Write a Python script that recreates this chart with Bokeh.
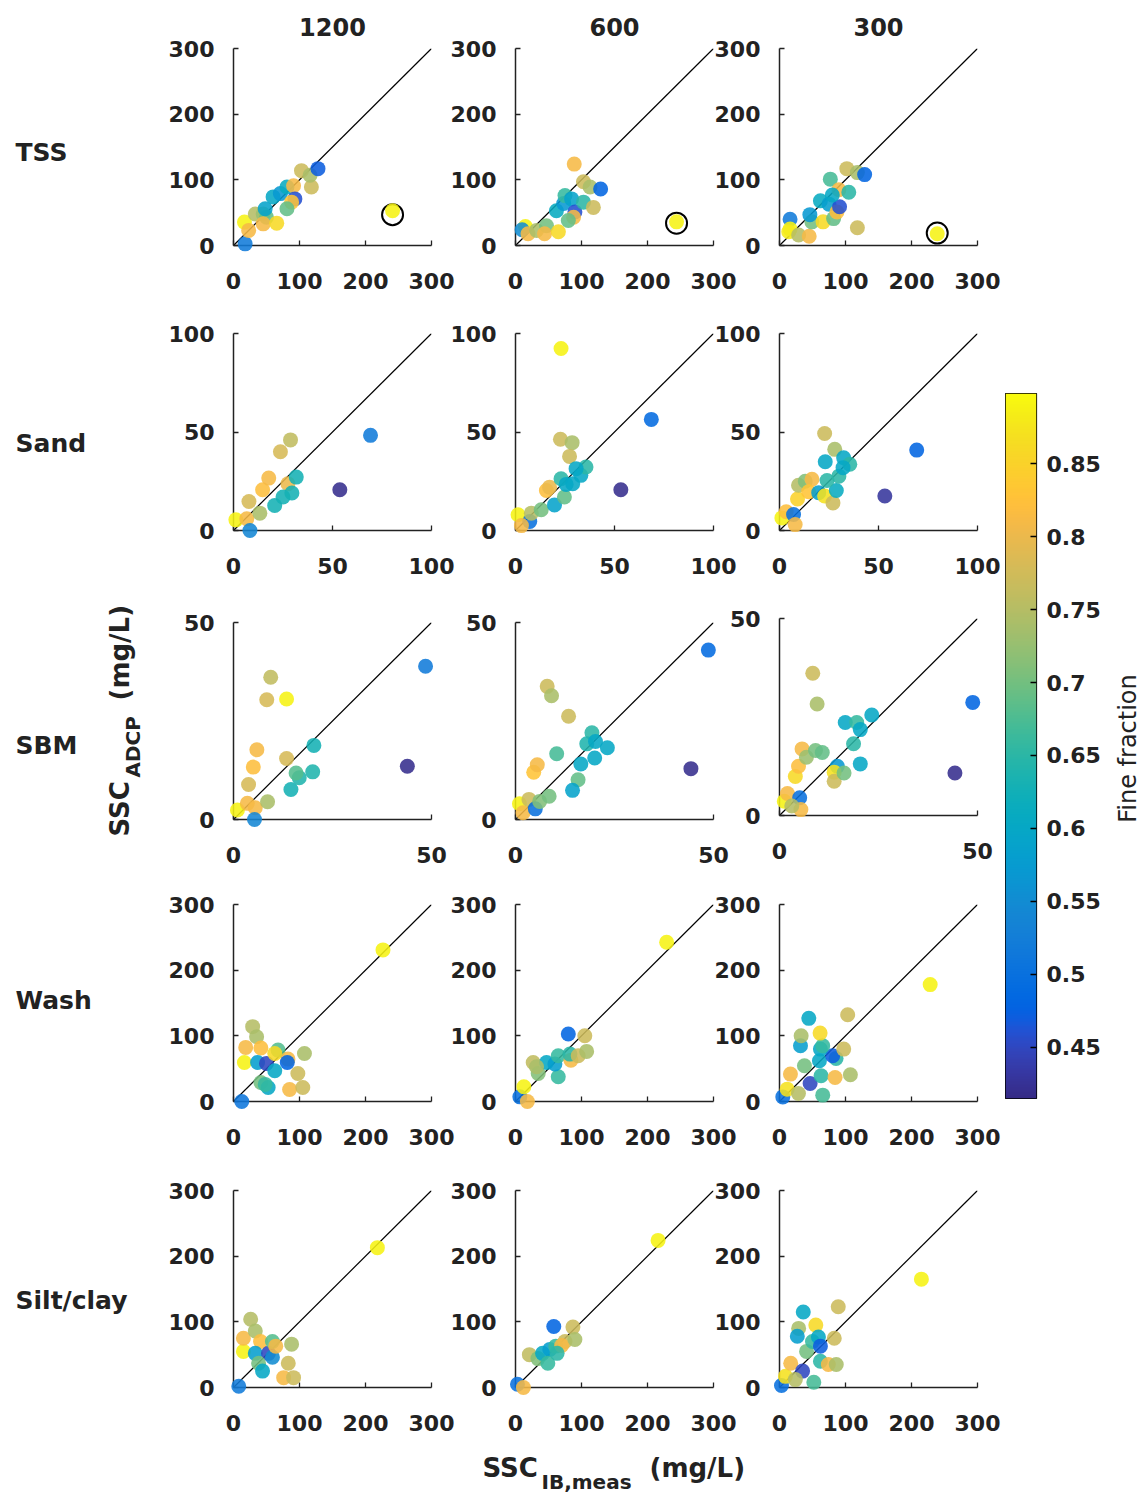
import numpy as np
from bokeh.plotting import figure
from bokeh.layouts import column
from bokeh.models import ColumnDataSource, Range1d, LinearAxis, FixedTicker, LinearColorMapper
from bokeh.transform import linear_cmap
from bokeh.core.properties import value
from bokeh.embed import file_html
from bokeh.resources import INLINE

# ---------------------------------------------------------------- data
FREQS = ["1200", "600", "300"]
ROWS = ["TSS", "Sand", "SBM", "Wash", "Silt/clay"]
ROW_MAX = [300, 100, 50, 300, 300]
ROW_TICKS = [[0, 100, 200, 300], [0, 50, 100], [0, 50], [0, 100, 200, 300], [0, 100, 200, 300]]
FF_LOW, FF_HIGH = 0.415, 0.898
CB_TICKS = [0.45, 0.5, 0.55, 0.6, 0.65, 0.7, 0.75, 0.8, 0.85]
CB_LABELS = ["0.45", "0.5", "0.55", "0.6", "0.65", "0.7", "0.75", "0.8", "0.85"]

# TSS
tss_1200_x = [17.6, 16.6, 23, 33, 45, 50, 45, 65.5, 48, 60, 71, 81, 91, 93, 88, 81, 103, 118, 116, 128, 241]
tss_1200_y = [2.5, 35.6, 23, 48, 48, 43, 33, 34, 56, 74, 79, 89, 91, 71, 66, 56, 114, 89, 107, 117, 53]
tss_1200_ff = [0.52, 0.89, 0.81, 0.75, 0.73, 0.69, 0.81, 0.86, 0.59, 0.6, 0.57, 0.61, 0.81, 0.46, 0.83, 0.69, 0.77, 0.77, 0.74, 0.47, 0.89]
tss_600_x = [15, 10, 19, 32, 47, 44, 65, 62, 73, 75, 85, 90, 88, 80, 103, 118, 103, 113, 129, 89, 244]
tss_600_y = [29, 24, 18, 23, 30, 18, 21, 53, 64, 76, 71, 51, 43, 38, 66, 58, 97, 89, 86, 124, 36]
tss_600_ff = [0.89, 0.55, 0.81, 0.74, 0.70, 0.81, 0.86, 0.61, 0.57, 0.66, 0.59, 0.46, 0.81, 0.69, 0.65, 0.77, 0.77, 0.74, 0.48, 0.81, 0.89]
tss_300_x = [16, 16, 14, 29, 45, 49, 46, 62, 75, 66, 82, 87, 91, 77, 90, 105, 80, 102, 118, 129, 118, 239]
tss_300_y = [40, 25, 21, 16, 14, 36, 47, 68, 63, 36, 41, 51, 59, 101, 85, 81, 77, 117, 111, 108, 27, 18]
tss_300_ff = [0.52, 0.89, 0.88, 0.75, 0.81, 0.70, 0.57, 0.61, 0.58, 0.86, 0.69, 0.82, 0.46, 0.67, 0.81, 0.65, 0.6, 0.77, 0.74, 0.48, 0.77, 0.89]
# flagged TSS sample (ringed)
tss_flag_x = [241, 244, 239]
tss_flag_y = [47, 34, 19]

# Sand
sand_1200_x = [1.2, 6.7, 8.3, 7.8, 13.3, 14.7, 17.8, 23.7, 28.8, 27.5, 20.8, 25, 29.5, 31.7, 69.2, 53.7]
sand_1200_y = [5.4, 6, 0, 14.7, 8.8, 20.7, 26.6, 40, 46, 23.7, 12.7, 17, 19, 27.1, 48.3, 20.7]
sand_1200_ff = [0.89, 0.81, 0.54, 0.78, 0.74, 0.82, 0.81, 0.78, 0.76, 0.80, 0.63, 0.63, 0.63, 0.63, 0.52, 0.42]
sand_600_x = [23, 22.7, 28.6, 27.3, 1.3, 7.2, 3, 8, 13, 15.6, 17.2, 19.7, 24.7, 23, 25.6, 28.9, 33, 35.6, 30.6, 68.6, 53.2]
sand_600_y = [92.4, 46.3, 44.6, 37.6, 8, 4.6, 2.5, 8.8, 10.5, 20.3, 22, 13, 17, 26.3, 23.4, 23.7, 28, 32.2, 31.4, 56.4, 20.7]
sand_600_ff = [0.89, 0.77, 0.74, 0.77, 0.89, 0.5, 0.81, 0.75, 0.70, 0.82, 0.80, 0.59, 0.69, 0.65, 0.6, 0.6, 0.6, 0.65, 0.6, 0.49, 0.42]
sand_300_x = [1.2, 3.4, 7.1, 7.9, 9.1, 9.6, 13, 16.4, 14.7, 19.8, 22.8, 27, 28.7, 24, 30, 23.1, 27.9, 22.8, 32.4, 35.5, 32.1, 69.3, 53.2]
sand_300_y = [6.4, 9.5, 8.1, 3, 16, 23, 25, 26, 19.7, 19.2, 17.5, 14, 20.3, 25.4, 27.6, 34.9, 41.2, 49.2, 36.9, 33.6, 31.9, 40.8, 17.5]
sand_300_ff = [0.89, 0.82, 0.5, 0.81, 0.85, 0.75, 0.71, 0.81, 0.83, 0.58, 0.87, 0.77, 0.61, 0.65, 0.65, 0.6, 0.74, 0.77, 0.6, 0.65, 0.6, 0.48, 0.43]

# SBM
sbm_1200_x = [1, 3.5, 5.5, 5.3, 3.8, 5, 5.9, 8.6, 13.4, 8.4, 9.4, 13.4, 14.5, 16.6, 15.8, 20, 20.3, 48.5, 43.9]
sbm_1200_y = [2.4, 4.1, 3, 0, 8.9, 13.3, 17.7, 4.5, 15.5, 30.4, 36.1, 30.6, 7.6, 10.6, 11.8, 12.1, 18.8, 38.9, 13.5]
sbm_1200_ff = [0.89, 0.81, 0.81, 0.54, 0.78, 0.82, 0.81, 0.74, 0.78, 0.78, 0.76, 0.89, 0.63, 0.64, 0.68, 0.64, 0.63, 0.52, 0.42]
sbm_600_x = [1, 1.9, 3.4, 5, 6.1, 8.5, 4.6, 5.5, 8, 9.1, 13.4, 10.4, 15.8, 14.4, 16.5, 20, 23.2, 19.3, 18, 20.2, 48.7, 44.3]
sbm_600_y = [4, 1.7, 5.1, 2.7, 4.6, 5.9, 12, 13.9, 33.8, 31.4, 26.2, 16.7, 10.1, 7.4, 14.1, 15.6, 18.2, 22, 19.2, 19.8, 43, 12.9]
sbm_600_ff = [0.89, 0.81, 0.77, 0.5, 0.71, 0.70, 0.83, 0.81, 0.77, 0.74, 0.77, 0.67, 0.69, 0.59, 0.6, 0.6, 0.6, 0.65, 0.64, 0.6, 0.49, 0.42]
sbm_300_x = [1.2, 2, 5.1, 5.4, 3.1, 4, 4.8, 5.7, 6.8, 9.1, 10.8, 8.4, 9.5, 14.6, 13.8, 13.8, 16.3, 20.4, 18.7, 16.6, 19.5, 20.4, 23.3, 48.8, 44.3]
sbm_300_y = [3.6, 5.6, 4.5, 1.5, 2.4, 9.9, 12.5, 16.9, 14.8, 16.5, 16, 36.1, 28.3, 12.5, 11, 8.7, 10.8, 13.1, 18.2, 23.6, 23.6, 21.8, 25.5, 28.7, 10.8]
sbm_300_ff = [0.89, 0.81, 0.5, 0.81, 0.75, 0.86, 0.82, 0.81, 0.73, 0.70, 0.69, 0.77, 0.74, 0.57, 0.87, 0.77, 0.70, 0.6, 0.65, 0.6, 0.66, 0.6, 0.6, 0.48, 0.42]

# Wash
wash_1200_x = [12.5, 16.5, 18.5, 29, 35, 41.5, 36.5, 50, 41.5, 52.5, 48, 62.5, 67.5, 62.5, 82.5, 81.5, 107.5, 97.5, 85, 105, 226.5]
wash_1200_y = [0, 59.5, 82.4, 114, 98.7, 81.4, 59.5, 58, 29, 21.4, 26, 46.8, 78.3, 73.2, 64.6, 59.5, 73.2, 42.7, 18.3, 21.4, 230.9]
wash_1200_ff = [0.51, 0.89, 0.81, 0.75, 0.74, 0.82, 0.58, 0.45, 0.70, 0.6, 0.66, 0.6, 0.68, 0.86, 0.81, 0.48, 0.74, 0.77, 0.81, 0.77, 0.89]
wash_600_x = [6.6, 18, 12.7, 26.8, 34.4, 64.8, 47, 59.7, 64.8, 31.9, 80, 105, 84, 82.5, 95, 107.8, 229]
wash_600_y = [7.1, 0, 22.4, 59.5, 42.7, 37.6, 59.5, 57, 69.7, 52.9, 102.7, 100.2, 63, 72.2, 69.7, 76.3, 242.6]
wash_600_ff = [0.5, 0.81, 0.89, 0.76, 0.71, 0.66, 0.6, 0.58, 0.66, 0.74, 0.48, 0.77, 0.81, 0.65, 0.77, 0.74, 0.89]
wash_300_x = [5, 11.6, 28.7, 16.6, 37.8, 46.4, 65.5, 63, 84.2, 107.4, 60.5, 85.7, 80.6, 62, 65.5, 97.3, 31.8, 32.8, 44.4, 61.5, 103.3, 228.3]
wash_300_y = [7, 18.8, 12.2, 41.7, 54.4, 27.5, 9.7, 39.2, 36.6, 40.7, 62, 65.6, 69.7, 79.8, 85, 79.8, 85, 100.2, 126.6, 104.2, 132.2, 178]
wash_300_ff = [0.5, 0.87, 0.75, 0.81, 0.70, 0.45, 0.67, 0.65, 0.81, 0.74, 0.6, 0.65, 0.47, 0.6, 0.66, 0.77, 0.58, 0.74, 0.6, 0.86, 0.77, 0.89]

# Silt/clay
silt_1200_x = [8, 15, 15, 26, 33, 41, 33, 53, 38, 44, 59, 59, 64, 88, 83, 76, 91, 218]
silt_1200_y = [2, 55, 75, 104, 86, 70, 52, 52, 37, 25, 46, 70, 63, 66, 37, 15, 15, 213]
silt_1200_ff = [0.52, 0.89, 0.81, 0.75, 0.74, 0.82, 0.58, 0.45, 0.70, 0.6, 0.55, 0.68, 0.81, 0.74, 0.77, 0.81, 0.77, 0.89]
silt_600_x = [3, 12, 58, 87, 21, 34, 41, 52, 49, 61, 75, 70, 90, 63, 216]
silt_600_y = [5, 0, 93, 92, 50, 44, 52, 58, 37, 63, 70, 64, 73, 52, 224]
silt_600_ff = [0.5, 0.81, 0.48, 0.77, 0.76, 0.71, 0.6, 0.58, 0.66, 0.66, 0.77, 0.81, 0.74, 0.65, 0.89]
silt_300_x = [3, 9, 17, 35, 24, 36, 29, 27, 55, 41, 50, 59, 62, 52, 62, 74, 89, 86, 83, 215]
silt_300_y = [3, 17, 37, 25, 12, 115, 90, 78, 95, 55, 70, 77, 63, 8, 40, 35, 123, 35, 75, 165]
silt_300_ff = [0.5, 0.87, 0.81, 0.45, 0.75, 0.6, 0.74, 0.58, 0.86, 0.70, 0.66, 0.6, 0.47, 0.67, 0.65, 0.81, 0.77, 0.74, 0.77, 0.89]

PANELS = {
    (0, 0): (tss_1200_x, tss_1200_y, tss_1200_ff), (0, 1): (tss_600_x, tss_600_y, tss_600_ff), (0, 2): (tss_300_x, tss_300_y, tss_300_ff),
    (1, 0): (sand_1200_x, sand_1200_y, sand_1200_ff), (1, 1): (sand_600_x, sand_600_y, sand_600_ff), (1, 2): (sand_300_x, sand_300_y, sand_300_ff),
    (2, 0): (sbm_1200_x, sbm_1200_y, sbm_1200_ff), (2, 1): (sbm_600_x, sbm_600_y, sbm_600_ff), (2, 2): (sbm_300_x, sbm_300_y, sbm_300_ff),
    (3, 0): (wash_1200_x, wash_1200_y, wash_1200_ff), (3, 1): (wash_600_x, wash_600_y, wash_600_ff), (3, 2): (wash_300_x, wash_300_y, wash_300_ff),
    (4, 0): (silt_1200_x, silt_1200_y, silt_1200_ff), (4, 1): (silt_600_x, silt_600_y, silt_600_ff), (4, 2): (silt_300_x, silt_300_y, silt_300_ff),
}

# ---------------------------------------------------------------- colormap (parula)
_P64 = np.array([
    [0.2081, 0.1663, 0.5292], [0.2116, 0.1898, 0.5777], [0.2123, 0.2138, 0.6270], [0.2081, 0.2386, 0.6771],
    [0.1959, 0.2645, 0.7279], [0.1707, 0.2919, 0.7792], [0.1253, 0.3242, 0.8303], [0.0591, 0.3598, 0.8683],
    [0.0117, 0.3875, 0.8820], [0.0060, 0.4086, 0.8828], [0.0165, 0.4266, 0.8786], [0.0329, 0.4430, 0.8720],
    [0.0498, 0.4586, 0.8641], [0.0629, 0.4737, 0.8554], [0.0723, 0.4887, 0.8467], [0.0779, 0.5040, 0.8384],
    [0.0793, 0.5200, 0.8312], [0.0749, 0.5375, 0.8263], [0.0641, 0.5570, 0.8240], [0.0488, 0.5772, 0.8228],
    [0.0343, 0.5966, 0.8199], [0.0265, 0.6137, 0.8135], [0.0239, 0.6287, 0.8038], [0.0231, 0.6418, 0.7913],
    [0.0228, 0.6535, 0.7768], [0.0267, 0.6642, 0.7607], [0.0384, 0.6743, 0.7436], [0.0590, 0.6838, 0.7254],
    [0.0843, 0.6928, 0.7062], [0.1133, 0.7015, 0.6859], [0.1453, 0.7098, 0.6646], [0.1801, 0.7177, 0.6424],
    [0.2178, 0.7250, 0.6193], [0.2586, 0.7317, 0.5954], [0.3022, 0.7376, 0.5712], [0.3482, 0.7424, 0.5473],
    [0.3953, 0.7459, 0.5244], [0.4420, 0.7481, 0.5033], [0.4871, 0.7491, 0.4840], [0.5300, 0.7491, 0.4661],
    [0.5709, 0.7485, 0.4494], [0.6099, 0.7473, 0.4337], [0.6473, 0.7456, 0.4188], [0.6834, 0.7435, 0.4044],
    [0.7184, 0.7411, 0.3905], [0.7525, 0.7384, 0.3768], [0.7858, 0.7356, 0.3633], [0.8185, 0.7327, 0.3498],
    [0.8507, 0.7299, 0.3360], [0.8824, 0.7274, 0.3217], [0.9139, 0.7258, 0.3063], [0.9450, 0.7261, 0.2886],
    [0.9739, 0.7314, 0.2666], [0.9938, 0.7455, 0.2403], [0.9990, 0.7653, 0.2164], [0.9955, 0.7861, 0.1967],
    [0.9880, 0.8066, 0.1794], [0.9789, 0.8271, 0.1633], [0.9697, 0.8481, 0.1475], [0.9626, 0.8705, 0.1309],
    [0.9589, 0.8949, 0.1132], [0.9598, 0.9218, 0.0948], [0.9661, 0.9514, 0.0755], [0.9763, 0.9831, 0.0538],
])
_t64 = np.linspace(0, 1, 64)
PARULA = ["#%02x%02x%02x" % tuple(int(round(255 * np.interp(t, _t64, _P64[:, k]))) for k in range(3))
          for t in np.linspace(0, 1, 256)]

# ---------------------------------------------------------------- page geometry
PAGE_W, PAGE_H = 1143, 1494
FONT = "DejaVu Sans"
INK = "#222222"
W_IN, H_IN = 198, 197          # axes box in px
LB, RB, TB, BB = 80, 30, 14, 70
FRAME_LEFT = [233, 515, 779]
FRAME_TOP = [48, 333, 622, 904, 1190]
TOP_SHIFT = {(2, 2): -4}

placed = []  # (figure, left, top)


def sheet(**kw):
    p = figure(toolbar_location=None, output_backend="svg", x_axis_type=None, y_axis_type=None, **kw)
    p.frame_align = False
    p.border_fill_color = None
    p.background_fill_color = None
    p.outline_line_color = None
    return p


def style_axis(ax, standoff):
    ax.axis_line_color = INK
    ax.axis_line_width = 1.5
    ax.major_tick_in = 5
    ax.major_tick_out = 0
    ax.major_tick_line_color = INK
    ax.major_tick_line_width = 1.3
    ax.minor_tick_line_color = None
    ax.major_label_text_font = FONT
    ax.major_label_text_font_style = "bold"
    ax.major_label_text_font_size = "22px"
    ax.major_label_text_color = INK
    ax.major_label_standoff = standoff


def make_panel(r, c):
    xs, ys, ff = PANELS[(r, c)]
    vmax = ROW_MAX[r]
    p = sheet(width=LB + W_IN + RB, height=TB + H_IN + BB,
              x_range=Range1d(0, vmax), y_range=Range1d(0, vmax),
              min_border_left=LB, min_border_right=RB, min_border_top=TB, min_border_bottom=BB)

    xa = LinearAxis(ticker=FixedTicker(ticks=ROW_TICKS[r]))
    ya = LinearAxis(ticker=FixedTicker(ticks=ROW_TICKS[r]))
    style_axis(xa, 27)
    style_axis(ya, 19)
    p.add_layout(xa, "below")
    p.add_layout(ya, "left")

    # 1:1 line
    p.line([0, vmax], [0, vmax], line_color="black", line_width=1.2)

    # markers sit above the axes and may spill over the axis lines
    if r == 0:
        p.scatter([tss_flag_x[c]], [tss_flag_y[c]], size=21, fill_color=None,
                  line_color="black", line_width=2, level="annotation")

    src = ColumnDataSource(dict(x=xs, y=ys, ff=ff))
    p.scatter("x", "y", source=src, size=15, line_color=None, fill_alpha=0.88,
              fill_color=linear_cmap("ff", PARULA, FF_LOW, FF_HIGH), level="annotation")

    left = FRAME_LEFT[c] - LB
    top = FRAME_TOP[r] + TOP_SHIFT.get((r, c), 0) - TB
    placed.append((p, left, top))


# background sheet carrying the free-standing labels
bg = sheet(width=PAGE_W, height=PAGE_H, x_range=Range1d(0, PAGE_W), y_range=Range1d(0, PAGE_H),
           min_border=0)
bg.background_fill_color = "white"
bg.border_fill_color = "white"


def page_text(xs, ys, texts, size, align="left", angle=0.0, style="bold"):
    bg.text(x=xs, y=[PAGE_H - v for v in ys], text=texts, angle=angle,
            text_align=align, text_baseline="middle", text_font=value(FONT),
            text_font_style=style, text_font_size=size, text_color=INK)


page_text([FRAME_LEFT[i] + W_IN / 2 for i in range(3)], [26] * 3, FREQS, "24px", align="center")
page_text([15] * 5, [152, 443, 745, 1000, 1300], ROWS, "25px")

# x axis title: SSC_IB,meas (mg/L)
page_text([482], [1467], ["SSC"], "26px")
page_text([541], [1481], ["IB,meas"], "20px")
page_text([649], [1467], ["(mg/L)"], "26px")
# y axis title: SSC_ADCP (mg/L), reading upward
page_text([119], [836], ["SSC"], "26px", angle=np.pi / 2)
page_text([132], [777], ["ADCP"], "20px", angle=np.pi / 2)
page_text([119], [700], ["(mg/L)"], "26px", angle=np.pi / 2)
# colour bar title
page_text([1127], [748], ["Fine fraction"], "24px", align="center", angle=np.pi / 2, style="normal")

placed.append((bg, 0, 0))
for r in range(5):
    for c in range(3):
        make_panel(r, c)

# colour bar
CB_LEFT, CB_TOP, CB_W, CB_H = 1005, 393, 31, 705
cb = sheet(width=CB_W + 80, height=CB_H + 4, x_range=Range1d(0, 1), y_range=Range1d(FF_LOW, FF_HIGH),
           min_border_left=0, min_border_right=80, min_border_top=2, min_border_bottom=2)
cb.outline_line_color = "black"
cb.outline_line_width = 1.2
mapper = LinearColorMapper(palette=PARULA, low=FF_LOW, high=FF_HIGH)
grad = np.linspace(FF_LOW, FF_HIGH, 256).reshape(256, 1)
cb.image(image=[grad], x=0, y=FF_LOW, dw=1, dh=FF_HIGH - FF_LOW, color_mapper=mapper)
ca = LinearAxis(ticker=FixedTicker(ticks=CB_TICKS),
                major_label_overrides={t: s for t, s in zip(CB_TICKS, CB_LABELS)})
style_axis(ca, 10)
ca.axis_line_color = None
ca.major_tick_in = 6
ca.major_tick_line_color = "black"
cb.add_layout(ca, "right")
placed.append((cb, CB_LEFT, CB_TOP - 2))

# stack every sheet at its absolute page position
children = []
bottom = 0
for fig, left, top in placed:
    fig.margin = (int(top - bottom), 0, 0, int(left))
    bottom = top + fig.height
    children.append(fig)

layout = column(children, spacing=0)

open("out.html", "w").write(file_html(layout, INLINE))
